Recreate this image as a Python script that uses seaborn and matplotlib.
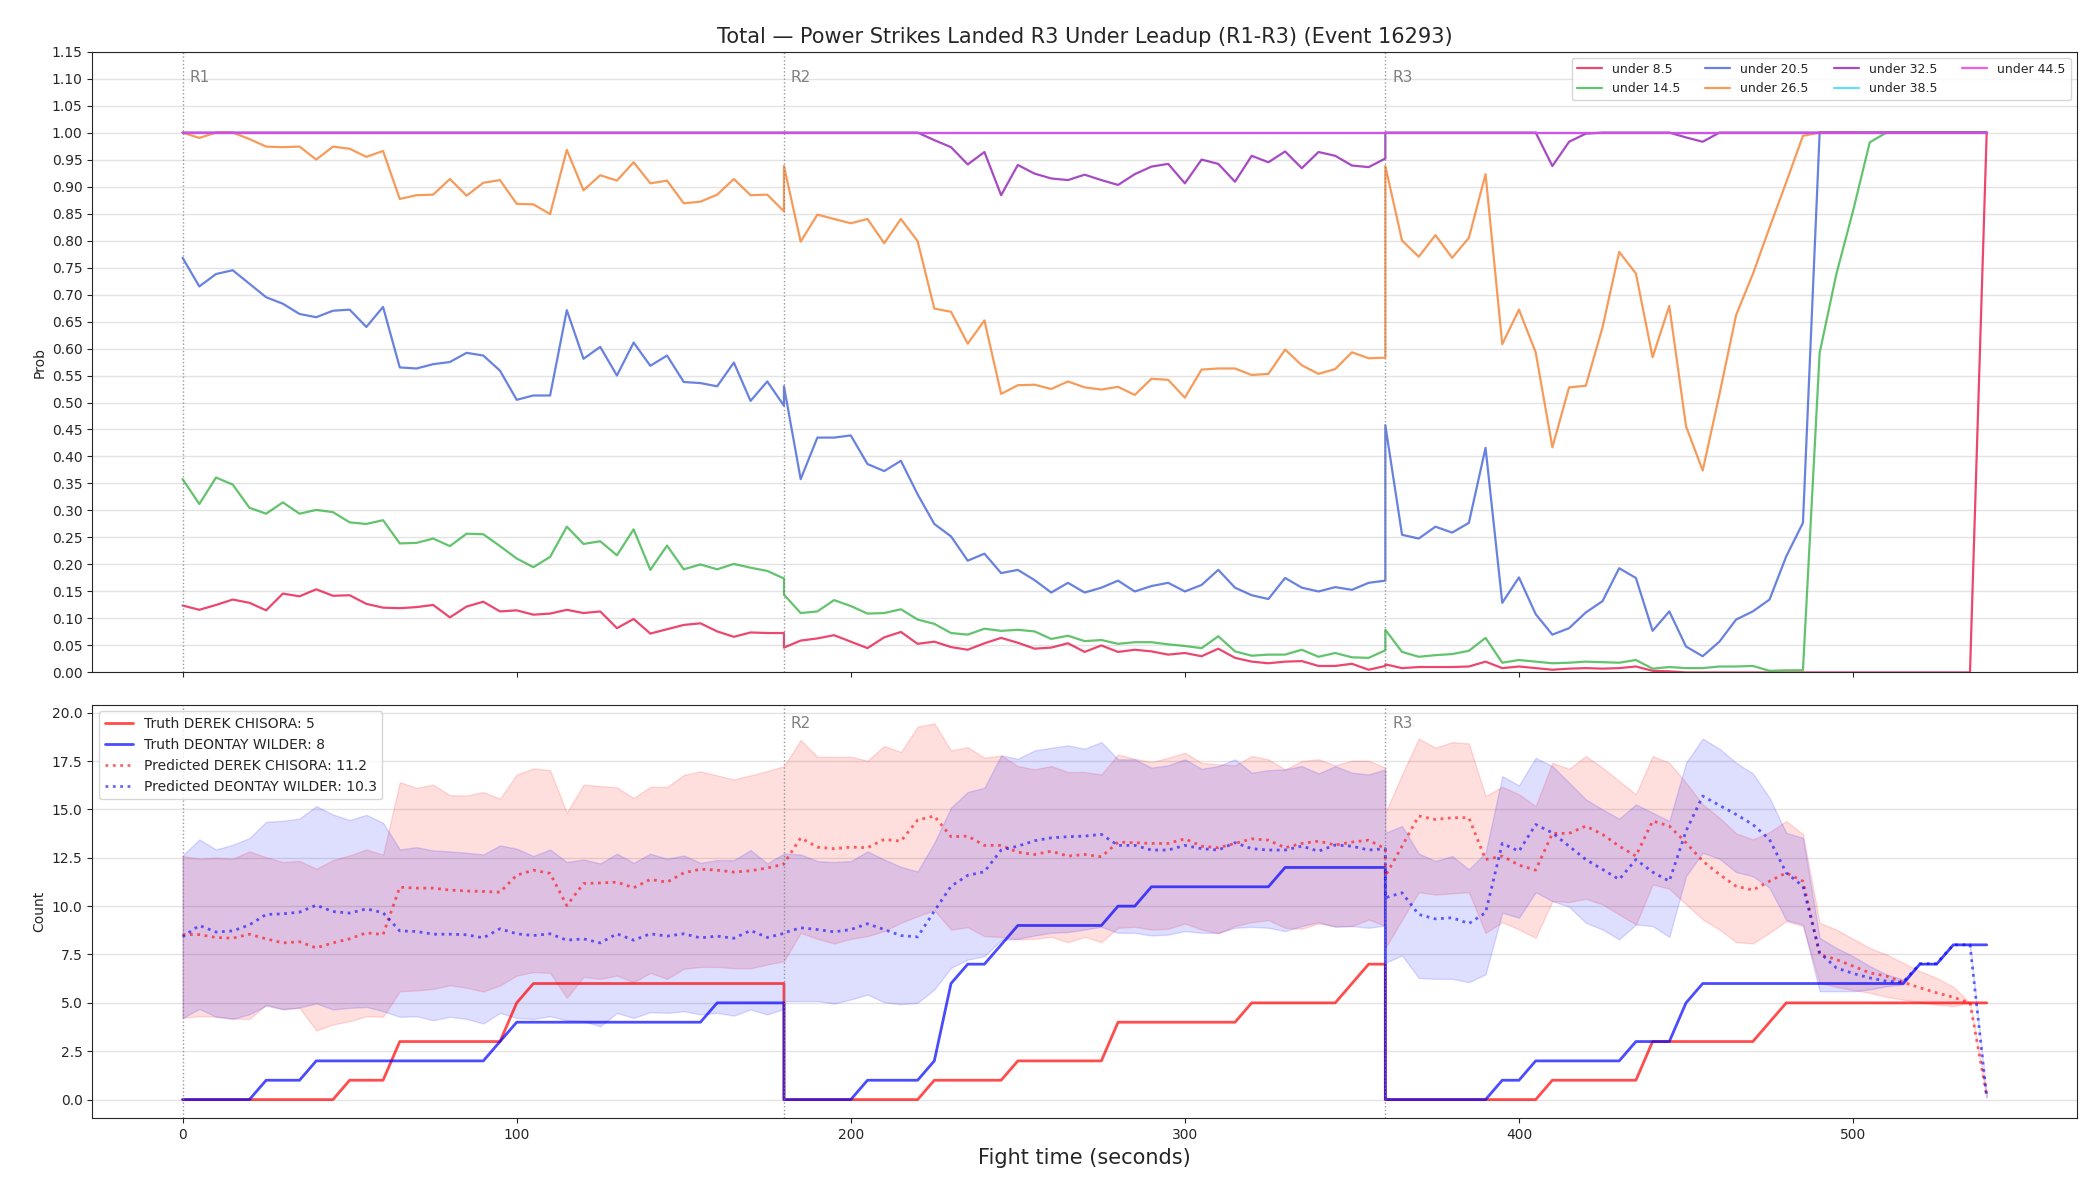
import numpy as np
import pandas as pd
import matplotlib
matplotlib.use("Agg")
import matplotlib.pyplot as plt
import seaborn as sns

# ---- sampling: each round is 0..180 s every 5 s, the round boundary is sampled twice
ROUND_LEN = 180
STEP = 5
round_offsets = [0, 180, 360]
round_labels = ["R1", "R2", "R3"]

# ---- top panel: P(total < line) per 5 s sample, R1 | R2 | R3
under_8_5 = (
    [0.124, 0.116, 0.125, 0.135, 0.129, 0.115, 0.146, 0.141, 0.154, 0.142, 0.143, 0.127, 0.120,
     0.119, 0.121, 0.125, 0.102, 0.122, 0.131, 0.113, 0.115, 0.107, 0.109, 0.116, 0.110, 0.113,
     0.082, 0.099, 0.072, 0.080, 0.088, 0.091, 0.076, 0.066, 0.074, 0.073, 0.073]
    + [0.046, 0.059, 0.063, 0.069, 0.057, 0.045, 0.065, 0.075, 0.053, 0.057, 0.047, 0.042, 0.054,
       0.064, 0.055, 0.044, 0.046, 0.054, 0.038, 0.050, 0.038, 0.042, 0.039, 0.033, 0.036, 0.030,
       0.044, 0.027, 0.020, 0.017, 0.020, 0.021, 0.012, 0.012, 0.016, 0.005, 0.012]
    + [0.015, 0.008, 0.010, 0.010, 0.010, 0.011, 0.020, 0.008, 0.011, 0.008, 0.005, 0.007, 0.008,
       0.007, 0.008, 0.011, 0.003, 0.002, 0.0, 0.0, 0.0, 0.0, 0.0, 0.0, 0.0, 0.0,
       0.0, 0.0, 0.0, 0.0, 0.0, 0.0, 0.0, 0.0, 0.0, 0.0, 1.0]
)
under_14_5 = (
    [0.358, 0.312, 0.361, 0.348, 0.305, 0.294, 0.315, 0.294, 0.301, 0.297, 0.278, 0.275, 0.282,
     0.239, 0.240, 0.248, 0.234, 0.257, 0.256, 0.234, 0.211, 0.195, 0.214, 0.270, 0.238, 0.243,
     0.217, 0.265, 0.190, 0.235, 0.191, 0.200, 0.191, 0.201, 0.194, 0.188, 0.174]
    + [0.144, 0.110, 0.113, 0.134, 0.123, 0.109, 0.110, 0.117, 0.098, 0.090, 0.073, 0.070, 0.081,
       0.077, 0.079, 0.076, 0.062, 0.068, 0.058, 0.060, 0.053, 0.056, 0.056, 0.052, 0.049, 0.045,
       0.067, 0.039, 0.031, 0.033, 0.033, 0.042, 0.029, 0.036, 0.028, 0.027, 0.041]
    + [0.079, 0.038, 0.029, 0.032, 0.034, 0.040, 0.064, 0.018, 0.023, 0.020, 0.017, 0.018, 0.020,
       0.019, 0.018, 0.023, 0.007, 0.010, 0.008, 0.008, 0.011, 0.011, 0.012, 0.003, 0.004, 0.004,
       0.592, 0.738, 0.855, 0.982, 1.0, 1.0, 1.0, 1.0, 1.0, 1.0, 1.0]
)
under_20_5 = (
    [0.768, 0.715, 0.738, 0.745, 0.720, 0.695, 0.683, 0.664, 0.658, 0.670, 0.672, 0.640, 0.677,
     0.565, 0.563, 0.571, 0.575, 0.592, 0.587, 0.559, 0.505, 0.513, 0.513, 0.671, 0.581, 0.603,
     0.550, 0.611, 0.568, 0.587, 0.538, 0.536, 0.530, 0.574, 0.503, 0.539, 0.494]
    + [0.530, 0.358, 0.435, 0.435, 0.439, 0.386, 0.373, 0.392, 0.330, 0.275, 0.252, 0.207, 0.220,
       0.184, 0.190, 0.171, 0.148, 0.166, 0.148, 0.157, 0.170, 0.150, 0.160, 0.166, 0.150, 0.162,
       0.190, 0.157, 0.143, 0.136, 0.175, 0.157, 0.150, 0.158, 0.153, 0.166, 0.170]
    + [0.458, 0.255, 0.248, 0.270, 0.259, 0.277, 0.416, 0.129, 0.176, 0.108, 0.070, 0.082, 0.111,
       0.132, 0.193, 0.175, 0.077, 0.113, 0.048, 0.030, 0.057, 0.098, 0.113, 0.135, 0.215, 0.277,
       1.0, 1.0, 1.0, 1.0, 1.0, 1.0, 1.0, 1.0, 1.0, 1.0, 1.0]
)
under_26_5 = (
    [1.0, 0.990, 1.0, 1.0, 0.988, 0.974, 0.973, 0.974, 0.950, 0.974, 0.970, 0.955, 0.966,
     0.877, 0.884, 0.885, 0.914, 0.883, 0.907, 0.912, 0.868, 0.867, 0.849, 0.968, 0.893, 0.921,
     0.911, 0.945, 0.906, 0.911, 0.869, 0.872, 0.885, 0.914, 0.884, 0.885, 0.854]
    + [0.938, 0.798, 0.848, 0.840, 0.832, 0.840, 0.795, 0.840, 0.799, 0.674, 0.668, 0.609, 0.652,
       0.516, 0.532, 0.533, 0.525, 0.539, 0.528, 0.524, 0.529, 0.514, 0.544, 0.542, 0.509, 0.561,
       0.563, 0.563, 0.551, 0.553, 0.598, 0.569, 0.553, 0.562, 0.593, 0.582, 0.583]
    + [0.938, 0.800, 0.770, 0.810, 0.768, 0.805, 0.923, 0.608, 0.672, 0.593, 0.417, 0.528, 0.531,
       0.639, 0.779, 0.739, 0.584, 0.679, 0.456, 0.374, 0.515, 0.662, 0.738, 0.824, 0.908, 0.994,
       1.0, 1.0, 1.0, 1.0, 1.0, 1.0, 1.0, 1.0, 1.0, 1.0, 1.0]
)
under_32_5 = (
    [1.0] * 37
    + [1.0, 1.0, 1.0, 1.0, 1.0, 1.0, 1.0, 1.0, 1.0, 0.986, 0.973, 0.941, 0.964,
       0.884, 0.940, 0.924, 0.915, 0.912, 0.922, 0.912, 0.903, 0.923, 0.937, 0.942, 0.906, 0.950,
       0.942, 0.909, 0.957, 0.945, 0.965, 0.934, 0.964, 0.957, 0.939, 0.936, 0.952]
    + [1.0, 1.0, 1.0, 1.0, 1.0, 1.0, 1.0, 1.0, 1.0, 1.0, 0.938, 0.983, 0.998,
       1.0, 1.0, 1.0, 1.0, 1.0, 0.991, 0.983, 1.0, 1.0, 1.0, 1.0, 1.0, 1.0,
       1.0, 1.0, 1.0, 1.0, 1.0, 1.0, 1.0, 1.0, 1.0, 1.0, 1.0]
)
under_38_5 = [1.0] * 111
under_44_5 = [1.0] * 111

line_names = ["under 8.5", "under 14.5", "under 20.5", "under 26.5",
              "under 32.5", "under 38.5", "under 44.5"]
line_colors = ["#e6194b", "#3cb44b", "#4363d8", "#f58231", "#911eb4", "#42d4f4", "#f032e6"]

# ---- bottom panel: cumulative counts within each round
truth_chisora = (
    [0] * 10 + [1] * 3 + [3] * 7 + [5] + [6] * 16
    + [0] * 9 + [1] * 5 + [2] * 6 + [4] * 8 + [5] * 6 + [6] + [7] * 2
    + [0] * 10 + [1] * 6 + [3] * 7 + [4] + [5] * 13
)
truth_wilder = (
    [0] * 5 + [1] * 3 + [2] * 11 + [3] + [4] * 12 + [5] * 5
    + [0] * 5 + [1] * 4 + [2] + [6] + [7] * 2 + [8] + [9] * 6 + [10] * 2 + [11] * 8 + [12] * 7
    + [0] * 7 + [1] * 2 + [2] * 6 + [3] * 3 + [5] + [6] * 13 + [7] * 2 + [8] * 3
)
pred_chisora = (
    [8.53, 8.53, 8.38, 8.34, 8.55, 8.31, 8.10, 8.16, 7.84, 8.10, 8.31, 8.62, 8.53,
     10.98, 10.93, 10.93, 10.83, 10.78, 10.76, 10.72, 11.60, 11.86, 11.69, 10.03, 11.17, 11.20,
     11.24, 10.95, 11.38, 11.24, 11.72, 11.91, 11.86, 11.76, 11.83, 11.97, 12.17]
    + [12.20, 13.53, 13.05, 12.97, 13.05, 13.02, 13.45, 13.36, 14.45, 14.66, 13.59, 13.62, 13.14,
       13.14, 12.79, 12.67, 12.84, 12.59, 12.67, 12.55, 13.31, 13.28, 13.24, 13.24, 13.48, 13.10,
       13.02, 13.24, 13.48, 13.41, 13.02, 13.24, 13.36, 13.16, 13.31, 13.41, 12.97]
    + [11.55, 13.10, 14.66, 14.48, 14.57, 14.57, 12.41, 12.59, 12.12, 11.86, 13.76, 13.76, 14.14,
       13.71, 13.10, 12.59, 14.40, 14.14, 13.28, 12.33, 11.64, 11.03, 10.83, 11.29, 11.72, 11.29,
       7.50, 7.24, 6.90, 6.55, 6.38, 6.07, 5.78, 5.52, 5.29, 5.00, 0.20]
)
pred_wilder = (
    [8.41, 9.00, 8.66, 8.72, 9.03, 9.57, 9.60, 9.69, 10.05, 9.72, 9.64, 9.86, 9.66,
     8.72, 8.69, 8.55, 8.55, 8.52, 8.36, 8.83, 8.57, 8.48, 8.57, 8.24, 8.31, 8.10,
     8.57, 8.24, 8.57, 8.45, 8.57, 8.36, 8.45, 8.34, 8.74, 8.38, 8.59]
    + [8.62, 8.88, 8.79, 8.67, 8.79, 9.09, 8.79, 8.48, 8.41, 9.74, 11.03, 11.59, 11.78,
       12.90, 13.10, 13.38, 13.53, 13.59, 13.62, 13.71, 13.14, 13.14, 12.90, 12.90, 13.14, 12.97,
       12.90, 13.28, 12.97, 12.90, 12.90, 13.10, 12.84, 13.16, 13.10, 12.90, 12.97]
    + [10.43, 10.69, 9.57, 9.34, 9.40, 9.10, 9.66, 13.24, 12.84, 14.22, 13.79, 13.10, 12.41,
       11.90, 11.38, 12.41, 11.76, 11.29, 13.88, 15.69, 15.21, 14.74, 14.22, 13.45, 11.72, 11.03,
       7.59, 6.81, 6.52, 6.29, 6.12, 6.07, 7.03, 7.03, 8.00, 8.00, 0.15]
)
chisora_hi = (
    [12.59, 12.45, 12.50, 12.45, 12.83, 12.53, 12.28, 12.34, 11.93, 12.38, 12.62, 12.93, 12.66,
     16.41, 16.12, 16.28, 15.74, 15.72, 15.90, 15.55, 16.81, 17.12, 17.03, 14.83, 16.28, 16.21,
     16.14, 15.59, 16.17, 16.16, 16.78, 16.97, 16.76, 16.55, 16.76, 16.98, 17.24]
    + [17.24, 18.59, 17.72, 17.72, 17.72, 17.52, 18.28, 17.97, 19.28, 19.45, 18.05, 18.22, 17.67,
       17.79, 17.24, 17.07, 17.24, 16.93, 16.93, 16.81, 17.84, 17.62, 17.45, 17.67, 17.93, 17.41,
       17.33, 17.28, 17.76, 17.59, 17.07, 17.50, 17.59, 17.28, 17.52, 17.52, 17.16]
    + [14.83, 16.80, 18.66, 18.19, 18.48, 18.41, 15.69, 16.17, 15.78, 15.17, 17.41, 17.10, 17.76,
       17.16, 16.47, 15.78, 17.76, 17.41, 16.38, 15.26, 14.57, 13.76, 13.45, 13.83, 14.40, 13.71,
       9.14, 8.79, 8.31, 7.84, 7.50, 7.07, 6.64, 6.29, 5.83, 5.00, 0.20]
)
chisora_lo = (
    [4.22, 4.31, 4.29, 4.19, 4.17, 4.90, 4.69, 4.74, 3.57, 3.88, 4.05, 4.31, 4.28,
     5.60, 5.64, 5.72, 5.91, 5.78, 5.59, 5.90, 6.41, 6.59, 6.55, 5.26, 6.34, 6.24,
     6.41, 6.07, 6.55, 6.24, 6.76, 6.86, 6.86, 6.79, 6.79, 6.98, 7.16]
    + [7.16, 8.62, 8.31, 8.07, 8.31, 8.45, 8.71, 9.14, 9.48, 9.79, 8.79, 8.91, 8.45,
       8.41, 8.28, 8.31, 8.41, 8.14, 8.41, 8.14, 8.88, 8.93, 8.79, 8.83, 9.10, 8.79,
       8.59, 8.97, 9.17, 9.28, 8.88, 8.83, 9.10, 8.97, 8.97, 9.31, 8.97]
    + [7.84, 9.29, 10.72, 10.60, 10.66, 10.72, 8.62, 9.17, 8.79, 8.36, 10.26, 10.21, 10.38,
       10.09, 9.57, 9.05, 11.12, 10.90, 10.09, 9.31, 8.79, 8.14, 8.07, 8.62, 9.22, 8.97,
       6.03, 5.83, 5.66, 5.52, 5.31, 5.17, 5.03, 4.91, 4.83, 5.00, 0.10]
)
wilder_hi = (
    [12.62, 13.45, 12.93, 13.17, 13.52, 14.36, 14.41, 14.53, 15.17, 14.74, 14.45, 14.72, 14.31,
     12.93, 13.05, 12.88, 12.83, 12.76, 12.67, 13.14, 12.97, 12.59, 12.93, 12.28, 12.41, 12.21,
     12.71, 12.24, 12.71, 12.45, 12.62, 12.24, 12.38, 12.38, 12.90, 12.21, 12.72]
    + [12.72, 12.67, 12.33, 12.28, 12.33, 12.83, 12.41, 12.03, 11.79, 13.28, 15.09, 15.90, 16.12,
       17.79, 17.62, 18.05, 18.19, 18.31, 18.14, 18.48, 17.59, 17.59, 17.16, 17.28, 17.59, 17.10,
       17.24, 17.59, 16.90, 17.03, 17.07, 17.24, 16.86, 17.24, 16.90, 16.81, 17.07]
    + [13.79, 14.14, 12.72, 12.33, 12.59, 11.90, 12.76, 16.72, 16.24, 17.67, 17.24, 16.38, 15.52,
       15.00, 14.52, 15.26, 14.83, 14.40, 17.41, 18.66, 18.14, 17.41, 16.86, 15.60, 13.79, 13.53,
       8.36, 7.84, 7.41, 6.90, 6.47, 6.21, 7.03, 7.03, 8.00, 8.00, 0.15]
)
wilder_lo = (
    [4.22, 4.69, 4.28, 4.17, 4.41, 4.86, 4.66, 4.76, 4.97, 4.66, 4.74, 4.79, 4.57,
     4.28, 4.31, 4.10, 4.28, 4.17, 3.93, 4.48, 4.22, 4.17, 4.31, 4.10, 4.05, 3.79,
     4.48, 4.22, 4.52, 4.48, 4.57, 4.40, 4.48, 4.34, 4.66, 4.40, 4.69]
    + [5.09, 5.09, 5.09, 4.97, 5.17, 5.43, 5.03, 4.93, 5.00, 5.69, 6.81, 7.24, 7.41,
       8.24, 8.31, 8.48, 8.62, 8.66, 8.79, 8.93, 8.62, 8.62, 8.48, 8.53, 8.71, 8.62,
       8.62, 8.88, 8.93, 8.88, 8.71, 8.97, 9.17, 8.93, 8.97, 8.88, 9.00]
    + [7.07, 7.45, 6.29, 6.24, 6.24, 6.07, 6.47, 9.66, 9.40, 10.72, 10.26, 9.97, 9.14,
       8.79, 8.28, 9.05, 8.97, 8.41, 11.55, 12.76, 12.45, 11.76, 11.55, 10.95, 9.28, 9.05,
       5.60, 5.60, 5.60, 5.69, 5.86, 5.95, 7.03, 7.03, 8.00, 8.00, 0.15]
)

fighter_a = "DEREK CHISORA"
fighter_b = "DEONTAY WILDER"
final_a, final_b = 5, 8
pred_final_a, pred_final_b = 11.2, 10.3


def main():
    sns.set_style("ticks")
    plt.rcParams["font.family"] = ["DejaVu Sans"]

    seconds = np.arange(0, ROUND_LEN + 1, STEP)
    fight_time = np.concatenate([off + seconds for off in round_offsets])

    probs = pd.DataFrame({
        "t": fight_time,
        "under 8.5": under_8_5, "under 14.5": under_14_5, "under 20.5": under_20_5,
        "under 26.5": under_26_5, "under 32.5": under_32_5, "under 38.5": under_38_5,
        "under 44.5": under_44_5,
    })
    counts = pd.DataFrame({
        "t": fight_time,
        "truth_a": truth_chisora, "truth_b": truth_wilder,
        "pred_a": pred_chisora, "pred_b": pred_wilder,
        "lo_a": chisora_lo, "hi_a": chisora_hi,
        "lo_b": wilder_lo, "hi_b": wilder_hi,
    })

    fig, (ax1, ax2) = plt.subplots(
        2, 1, figsize=(21, 12), dpi=100, sharex=True,
        gridspec_kw={"height_ratios": [3, 2]},
    )
    fig.subplots_adjust(left=0.044, right=0.989, top=0.957, bottom=0.068, hspace=0.062)

    # top: threshold probabilities
    for name, col in zip(line_names, line_colors):
        sns.lineplot(data=probs, x="t", y=name, ax=ax1, color=col, alpha=0.8,
                     linewidth=1.6, estimator=None, sort=False, label=name)
    ax1.set_ylim(0, 1.15)
    ax1.set_yticks(np.arange(0, 1.151, 0.05))
    ax1.yaxis.set_major_formatter(matplotlib.ticker.FormatStrFormatter("%.2f"))
    ax1.set_ylabel("Prob")
    ax1.set_xlabel("")
    ax1.set_title("Total \u2014 Power Strikes Landed R3 Under Leadup (R1-R3) (Event 16293)",
                  fontsize=15)
    ax1.legend(loc="upper right", ncol=4, fontsize=9, frameon=True)

    # bottom: truth vs predicted counts
    ax2.fill_between(counts["t"], counts["lo_a"], counts["hi_a"], color="red", alpha=0.13,
                     linewidth=1)
    ax2.fill_between(counts["t"], counts["lo_b"], counts["hi_b"], color="blue", alpha=0.13,
                     linewidth=1)
    sns.lineplot(data=counts, x="t", y="truth_a", ax=ax2, color="red", alpha=0.7, linewidth=2,
                 estimator=None, sort=False, label=f"Truth {fighter_a}: {final_a}")
    sns.lineplot(data=counts, x="t", y="truth_b", ax=ax2, color="blue", alpha=0.7, linewidth=2,
                 estimator=None, sort=False, label=f"Truth {fighter_b}: {final_b}")
    sns.lineplot(data=counts, x="t", y="pred_a", ax=ax2, color="red", alpha=0.6, linewidth=2,
                 linestyle=":", estimator=None, sort=False,
                 label=f"Predicted {fighter_a}: {pred_final_a}")
    sns.lineplot(data=counts, x="t", y="pred_b", ax=ax2, color="blue", alpha=0.6, linewidth=2,
                 linestyle=":", estimator=None, sort=False,
                 label=f"Predicted {fighter_b}: {pred_final_b}")
    ax2.set_ylabel("Count")
    ax2.set_xlabel("Fight time (seconds)", fontsize=15)
    ax2.legend(loc="upper left", fontsize=10, frameon=True)

    for ax in (ax1, ax2):
        ax.grid(axis="y", color="#e3e3e3", linewidth=1)
        ax.set_axisbelow(True)
        top = ax.get_ylim()[1]
        for off, lab in zip(round_offsets, round_labels):
            ax.axvline(off, color="gray", linestyle=":", linewidth=1, alpha=0.8)
            # in the lower panel the R1 tag sits under the legend, so skip it there
            if ax is ax2 and lab == "R1":
                continue
            ax.text(off + 2, top * 0.97, lab, color="gray", fontsize=11, va="top", ha="left",
                    zorder=1)

    fig.savefig("out.png", dpi=100)
    plt.close(fig)


if __name__ == "__main__":
    main()
